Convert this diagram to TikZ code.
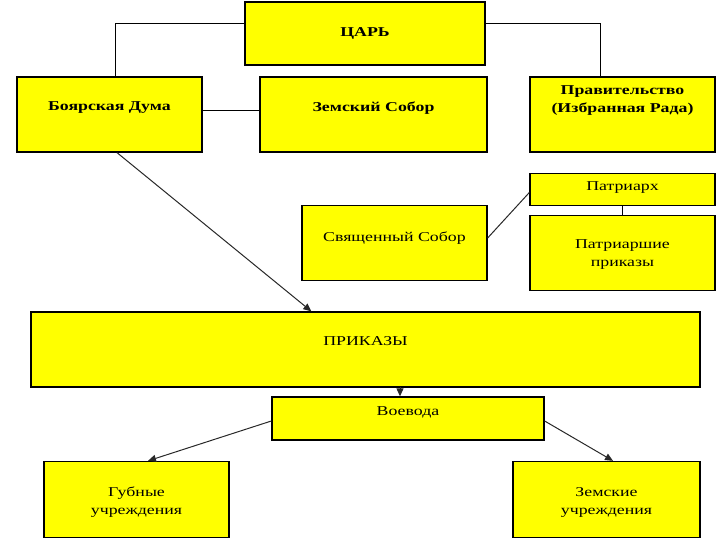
\documentclass[tikz,border=0pt]{standalone}
\usepackage{fontspec}
\setmainfont{Liberation Serif}[FakeStretch=1.32]
\usetikzlibrary{arrows.meta,calc}
\definecolor{boxfill}{RGB}{255,255,0}
\definecolor{arrowcol}{RGB}{40,40,40}
\begin{document}
\begin{tikzpicture}[x=1pt,y=1pt,
  box/.style={draw=black,line width=1.3pt,fill=boxfill,inner sep=0pt},
  txt/.style={font=\fontsize{13.5}{18}\selectfont,align=center,inner sep=0pt},
  btxt/.style={txt,font=\fontsize{13.5}{18}\selectfont\bfseries},
  conn/.style={draw=black,line width=1pt},
  arr/.style={draw=arrowcol,line width=1pt,-{Triangle[length=8pt,width=7pt]}}]
\useasboundingbox (0,0) rectangle (720,-540);
% boxes
\node[box,minimum width=240pt,minimum height=63pt] (tsar) at (365,-33.5) {};
\node[box,minimum width=185pt,minimum height=75pt] (boyar) at (109.5,-114.5) {};
\node[box,minimum width=227pt,minimum height=75pt] (zem) at (373.5,-114.5) {};
\node[box,minimum width=185pt,minimum height=75pt] (prav) at (622.5,-114.5) {};
\node[box,minimum width=185pt,minimum height=32pt] (patr) at (622.5,-189.5) {};
\node[box,minimum width=185pt,minimum height=75pt] (pprik) at (622.5,-253) {};
\node[box,minimum width=185pt,minimum height=75pt] (svyas) at (394.5,-243) {};
\node[box,minimum width=669pt,minimum height=75pt] (prikazy) at (365.5,-349.5) {};
\node[box,minimum width=272pt,minimum height=43pt] (voev) at (408,-418.5) {};
\node[box,minimum width=185pt,minimum height=76pt] (gub) at (136.5,-499.5) {};
\node[box,minimum width=187pt,minimum height=76pt] (zemu) at (606.5,-499.5) {};
% texts
\node[btxt] (tTsar) at (365,-33) {ЦАРЬ};
\node[btxt] (tBoyar) at (109.5,-108) {Боярская Дума};
\node[btxt] (tZem) at (373.5,-108) {Земский Собор};
\node[btxt] (tPrav) at (622.5,-101) {Правительство\\(Избранная Рада)};
\node[txt] (tPatr) at (622.5,-188) {Патриарх};
\node[txt] (tPprik) at (622.5,-255) {Патриаршие\\приказы};
\node[txt] (tSvyas) at (394.5,-238) {Священный Собор};
\node[txt] (tPrikazy) at (365.5,-341) {ПРИКАЗЫ};
\node[txt] (tVoev) at (408,-412) {Воевода};
\node[txt] (tGub) at (136.5,-502) {Губные\\учреждения};
\node[txt] (tZemu) at (606.5,-502) {Земские\\учреждения};
% connectors
\coordinate (pv) at (400,-387);
\draw[conn] ($(tsar.north west)+(0,-22)$) -| ($(boyar.north)+(5.5,0)$);
\draw[conn] ($(tsar.north east)+(0,-22)$) -| ($(prav.north)+(-22.5,0)$);
\draw[conn] ($(tsar.south)+(-5,0)$) -- ($(tsar.south)+(-5,0)$ |- zem.north);
\draw[conn] ([yshift=4pt]boyar.east) -- ([yshift=4pt]boyar.east -| zem.west);
\draw[conn] (patr.south) -- (pprik.north);
\draw[draw=arrowcol,line width=1pt] ($(svyas.east)+(0,5)$) -- ($(patr.west)+(0,-3)$);
\draw[arr] ($(boyar.south)+(7.5,0)$) -- ($(prikazy.north west)+(281,0)$);
\draw[arr] (pv) -- (pv |- voev.north);
\draw[arr] ($(voev.west)+(0,-2.5)$) -- ($(gub.north)+(11.5,0)$);
\draw[arr] ($(voev.east)+(0,-2.5)$) -- ($(zemu.north)+(6.5,0)$);
\end{tikzpicture}
\end{document}
